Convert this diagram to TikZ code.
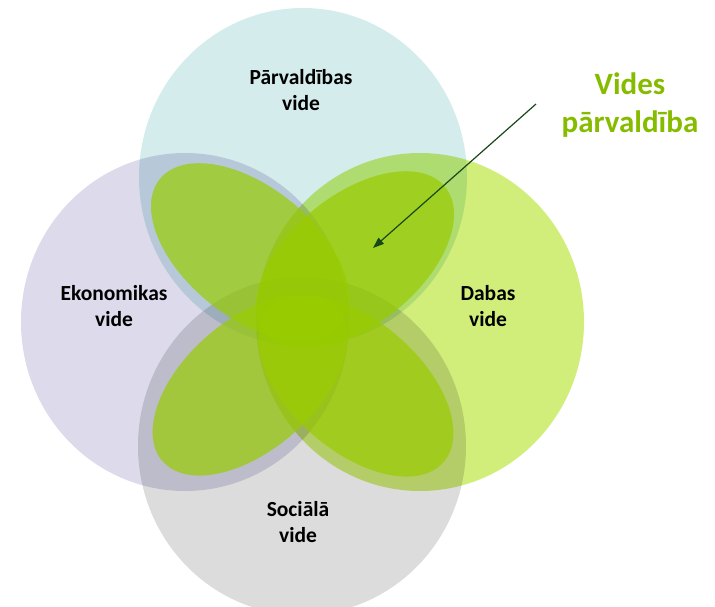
\documentclass[tikz,border=0pt]{standalone}
\usepackage{fontspec}
\setmainfont{Carlito}
\usetikzlibrary{arrows.meta}
\definecolor{parvc}{RGB}{213,236,236}
\definecolor{ekonc}{RGB}{220,218,235}
\definecolor{dabac}{RGB}{210,238,122}
\definecolor{socc}{RGB}{220,220,220}
\definecolor{petalc}{RGB}{153,204,0}
\definecolor{titlec}{RGB}{134,188,0}
\definecolor{arrowc}{RGB}{24,72,24}

\begin{document}
\begin{tikzpicture}[x=1pt, y=-1pt, venn/.style={blend mode=multiply}, petal/.style={fill=petalc, fill opacity=0.7}, label node/.style={font=\bfseries\fontsize{21.5}{26}\selectfont, align=center, inner sep=0pt}]
\useasboundingbox (0,0) rectangle (715,607);
\begin{scope}[venn]
\fill[parvc] (303,177) ellipse [x radius=164, y radius=169];
\fill[ekonc] (185,322) ellipse [x radius=164, y radius=169];
\fill[dabac] (420,322) ellipse [x radius=164, y radius=169];
\fill[socc] (302,446) ellipse [x radius=164, y radius=169];
\end{scope}
\begin{scope}[petal]
\fill[rotate around={-39:(250,252)}] (250,252) ellipse [x radius=116, y radius=65];
\fill[rotate around={39:(355,260)}] (355,260) ellipse [x radius=116, y radius=65];
\fill[rotate around={41:(250,385)}] (250,385) ellipse [x radius=116, y radius=65];
\fill[rotate around={-41:(356,386)}] (356,386) ellipse [x radius=116, y radius=65];
\end{scope}
\begin{scope}[every node/.style={label node}]
\node (parv) at (301,90) {Pārvaldības\\vide};
\node (ekon) at (114,306) {Ekonomikas\\vide};
\node (daba) at (488,306) {Dabas\\vide};
\node (soc) at (298,522) {Sociālā\\vide};
\end{scope}
\node[font=\bfseries\fontsize{31}{38}\selectfont, align=center, inner sep=0pt, text=titlec] (vpar) at (630,105) {Vides\\pārvaldība};
\coordinate (arrow start) at (536,104);
\coordinate (arrow tip) at (373,248);
\draw[arrowc, line width=1.2pt, -{Triangle[length=11pt,width=8pt]}] (arrow start) -- (arrow tip);
\end{tikzpicture}
\end{document}
